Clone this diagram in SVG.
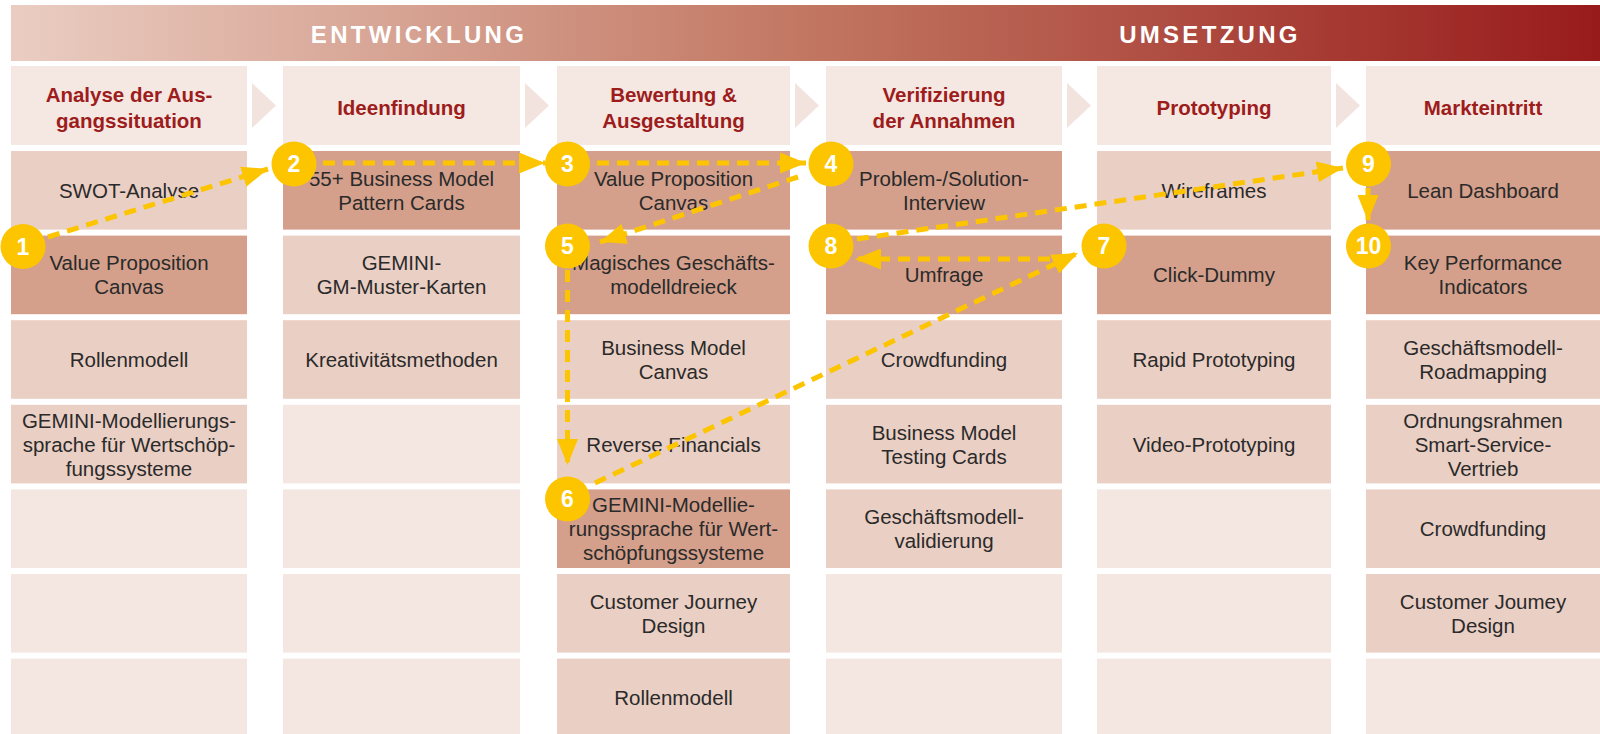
<svg xmlns="http://www.w3.org/2000/svg" width="1600" height="734" viewBox="0 0 1600 734">
<defs>
<linearGradient id="band" x1="0" y1="0" x2="1" y2="0">
<stop offset="0" stop-color="#eacdc2"/>
<stop offset="0.5" stop-color="#c27762"/>
<stop offset="1" stop-color="#981b1b"/>
</linearGradient>
<marker id="ah" markerUnits="userSpaceOnUse" markerWidth="27" markerHeight="21" refX="26" refY="10.5" orient="auto">
<path d="M0,0 L26,10.5 L0,21 z" fill="#fdc400"/>
</marker>
<style>
.hd{fill:#f5e7e2}
.lt{fill:#f4e6e1}
.md{fill:#eacfc4}
.dk{fill:#d4a08b}
.chev{fill:#f3e3de}
.ht{font-family:"Liberation Sans",Arial,sans-serif;font-weight:bold;font-size:20.5px;fill:#9d1c1c;text-anchor:middle}
.ct{font-family:"Liberation Sans",Arial,sans-serif;font-size:20.5px;fill:#2a2a2a;text-anchor:middle}
.bt{font-family:"Liberation Sans",Arial,sans-serif;font-weight:bold;font-size:24px;letter-spacing:3.3px;fill:#ffffff;text-anchor:middle}
.con{fill:none;stroke:#fdc400;stroke-width:5;stroke-dasharray:12 8;marker-end:url(#ah)}
.cir{fill:#fdc400}
.num{font-family:"Liberation Sans",Arial,sans-serif;font-weight:bold;font-size:23px;fill:#ffffff;text-anchor:middle}
</style>
</defs>
<rect width="1600" height="734" fill="#ffffff"/>
<g id="band">
<rect x="11" y="5" width="1589" height="56" fill="url(#band)"/>
<text class="bt" x="419" y="43">ENTWICKLUNG</text>
<text class="bt" x="1210" y="43">UMSETZUNG</text>
</g>
<g id="chevrons">
<polygon class="chev" points="252,83 276,105.5 252,128"/>
<polygon class="chev" points="525,83 549,105.5 525,128"/>
<polygon class="chev" points="795,83 819,105.5 795,128"/>
<polygon class="chev" points="1067,83 1091,105.5 1067,128"/>
<polygon class="chev" points="1336,83 1360,105.5 1336,128"/>
</g>
<g id="col1">
<g id="h1"><rect class="hd" x="11" y="66" width="236" height="79"/><text class="ht" x="129" y="101.5">Analyse der Aus-</text><text class="ht" x="129" y="127.5">gangssituation</text></g>
<g id="c1r1"><rect class="md" x="11" y="151" width="236" height="78.6"/><text class="ct" x="129" y="197.8">SWOT-Analyse</text></g>
<g id="c1r2"><rect class="dk" x="11" y="235.6" width="236" height="78.6"/><text class="ct" x="129" y="270.4">Value Proposition</text><text class="ct" x="129" y="294.4">Canvas</text></g>
<g id="c1r3"><rect class="md" x="11" y="320.2" width="236" height="78.6"/><text class="ct" x="129" y="367">Rollenmodell</text></g>
<g id="c1r4"><rect class="md" x="11" y="404.8" width="236" height="78.6"/><text class="ct" x="129" y="427.6">GEMINI-Modellierungs-</text><text class="ct" x="129" y="451.6">sprache für Wertschöp-</text><text class="ct" x="129" y="475.6">fungssysteme</text></g>
<g id="c1r5"><rect class="lt" x="11" y="489.4" width="236" height="78.6"/></g>
<g id="c1r6"><rect class="lt" x="11" y="574" width="236" height="78.6"/></g>
<g id="c1r7"><rect class="lt" x="11" y="658.6" width="236" height="78.6"/></g>
</g>
<g id="col2">
<g id="h2"><rect class="hd" x="283" y="66" width="237" height="79"/><text class="ht" x="401.5" y="114.5">Ideenfindung</text></g>
<g id="c2r1"><rect class="dk" x="283" y="151" width="237" height="78.6"/><text class="ct" x="401.5" y="185.8">55+ Business Model</text><text class="ct" x="401.5" y="209.8">Pattern Cards</text></g>
<g id="c2r2"><rect class="md" x="283" y="235.6" width="237" height="78.6"/><text class="ct" x="401.5" y="270.4">GEMINI-</text><text class="ct" x="401.5" y="294.4">GM-Muster-Karten</text></g>
<g id="c2r3"><rect class="md" x="283" y="320.2" width="237" height="78.6"/><text class="ct" x="401.5" y="367">Kreativitätsmethoden</text></g>
<g id="c2r4"><rect class="lt" x="283" y="404.8" width="237" height="78.6"/></g>
<g id="c2r5"><rect class="lt" x="283" y="489.4" width="237" height="78.6"/></g>
<g id="c2r6"><rect class="lt" x="283" y="574" width="237" height="78.6"/></g>
<g id="c2r7"><rect class="lt" x="283" y="658.6" width="237" height="78.6"/></g>
</g>
<g id="col3">
<g id="h3"><rect class="hd" x="557" y="66" width="233" height="79"/><text class="ht" x="673.5" y="101.5">Bewertung &amp;</text><text class="ht" x="673.5" y="127.5">Ausgestaltung</text></g>
<g id="c3r1"><rect class="dk" x="557" y="151" width="233" height="78.6"/><text class="ct" x="673.5" y="185.8">Value Proposition</text><text class="ct" x="673.5" y="209.8">Canvas</text></g>
<g id="c3r2"><rect class="dk" x="557" y="235.6" width="233" height="78.6"/><text class="ct" x="673.5" y="270.4">Magisches Geschäfts-</text><text class="ct" x="673.5" y="294.4">modelldreieck</text></g>
<g id="c3r3"><rect class="md" x="557" y="320.2" width="233" height="78.6"/><text class="ct" x="673.5" y="355">Business Model</text><text class="ct" x="673.5" y="379">Canvas</text></g>
<g id="c3r4"><rect class="md" x="557" y="404.8" width="233" height="78.6"/><text class="ct" x="673.5" y="451.6">Reverse Financials</text></g>
<g id="c3r5"><rect class="dk" x="557" y="489.4" width="233" height="78.6"/><text class="ct" x="673.5" y="512.2">GEMINI-Modellie-</text><text class="ct" x="673.5" y="536.2">rungssprache für Wert-</text><text class="ct" x="673.5" y="560.2">schöpfungssysteme</text></g>
<g id="c3r6"><rect class="md" x="557" y="574" width="233" height="78.6"/><text class="ct" x="673.5" y="608.8">Customer Journey</text><text class="ct" x="673.5" y="632.8">Design</text></g>
<g id="c3r7"><rect class="md" x="557" y="658.6" width="233" height="78.6"/><text class="ct" x="673.5" y="705.4">Rollenmodell</text></g>
</g>
<g id="col4">
<g id="h4"><rect class="hd" x="826" y="66" width="236" height="79"/><text class="ht" x="944" y="101.5">Verifizierung</text><text class="ht" x="944" y="127.5">der Annahmen</text></g>
<g id="c4r1"><rect class="dk" x="826" y="151" width="236" height="78.6"/><text class="ct" x="944" y="185.8">Problem-/Solution-</text><text class="ct" x="944" y="209.8">Interview</text></g>
<g id="c4r2"><rect class="dk" x="826" y="235.6" width="236" height="78.6"/><text class="ct" x="944" y="282.4">Umfrage</text></g>
<g id="c4r3"><rect class="md" x="826" y="320.2" width="236" height="78.6"/><text class="ct" x="944" y="367">Crowdfunding</text></g>
<g id="c4r4"><rect class="md" x="826" y="404.8" width="236" height="78.6"/><text class="ct" x="944" y="439.6">Business Model</text><text class="ct" x="944" y="463.6">Testing Cards</text></g>
<g id="c4r5"><rect class="md" x="826" y="489.4" width="236" height="78.6"/><text class="ct" x="944" y="524.2">Geschäftsmodell-</text><text class="ct" x="944" y="548.2">validierung</text></g>
<g id="c4r6"><rect class="lt" x="826" y="574" width="236" height="78.6"/></g>
<g id="c4r7"><rect class="lt" x="826" y="658.6" width="236" height="78.6"/></g>
</g>
<g id="col5">
<g id="h5"><rect class="hd" x="1097" y="66" width="234" height="79"/><text class="ht" x="1214" y="114.5">Prototyping</text></g>
<g id="c5r1"><rect class="md" x="1097" y="151" width="234" height="78.6"/><text class="ct" x="1214" y="197.8">Wireframes</text></g>
<g id="c5r2"><rect class="dk" x="1097" y="235.6" width="234" height="78.6"/><text class="ct" x="1214" y="282.4">Click-Dummy</text></g>
<g id="c5r3"><rect class="md" x="1097" y="320.2" width="234" height="78.6"/><text class="ct" x="1214" y="367">Rapid Prototyping</text></g>
<g id="c5r4"><rect class="md" x="1097" y="404.8" width="234" height="78.6"/><text class="ct" x="1214" y="451.6">Video-Prototyping</text></g>
<g id="c5r5"><rect class="lt" x="1097" y="489.4" width="234" height="78.6"/></g>
<g id="c5r6"><rect class="lt" x="1097" y="574" width="234" height="78.6"/></g>
<g id="c5r7"><rect class="lt" x="1097" y="658.6" width="234" height="78.6"/></g>
</g>
<g id="col6">
<g id="h6"><rect class="hd" x="1366" y="66" width="234" height="79"/><text class="ht" x="1483" y="114.5">Markteintritt</text></g>
<g id="c6r1"><rect class="dk" x="1366" y="151" width="234" height="78.6"/><text class="ct" x="1483" y="197.8">Lean Dashboard</text></g>
<g id="c6r2"><rect class="dk" x="1366" y="235.6" width="234" height="78.6"/><text class="ct" x="1483" y="270.4">Key Performance</text><text class="ct" x="1483" y="294.4">Indicators</text></g>
<g id="c6r3"><rect class="md" x="1366" y="320.2" width="234" height="78.6"/><text class="ct" x="1483" y="355">Geschäftsmodell-</text><text class="ct" x="1483" y="379">Roadmapping</text></g>
<g id="c6r4"><rect class="md" x="1366" y="404.8" width="234" height="78.6"/><text class="ct" x="1483" y="427.6">Ordnungsrahmen</text><text class="ct" x="1483" y="451.6">Smart-Service-</text><text class="ct" x="1483" y="475.6">Vertrieb</text></g>
<g id="c6r5"><rect class="md" x="1366" y="489.4" width="234" height="78.6"/><text class="ct" x="1483" y="536.2">Crowdfunding</text></g>
<g id="c6r6"><rect class="md" x="1366" y="574" width="234" height="78.6"/><text class="ct" x="1483" y="608.8">Customer Joumey</text><text class="ct" x="1483" y="632.8">Design</text></g>
<g id="c6r7"><rect class="lt" x="1366" y="658.6" width="234" height="78.6"/></g>
</g>
<g id="connectors">
<path class="con" d="M48,237 L268,169"/>
<path class="con" d="M323,163 L545,163"/>
<path class="con" d="M597,163 L806,163"/>
<path class="con" d="M798,177 L600,242"/>
<path class="con" d="M567.5,270 L567.5,465"/>
<path class="con" d="M595,483 L1078,253"/>
<path class="con" d="M1050,259 L855,259"/>
<path class="con" d="M857,239 L1343,168"/>
<path class="con" d="M1368,188 L1368,221"/>
</g>
<g id="steps">
<g id="s1"><circle class="cir" cx="23" cy="246.5" r="22.5"/><text class="num" x="23" y="254.5">1</text></g>
<g id="s2"><circle class="cir" cx="294" cy="164" r="22.5"/><text class="num" x="294" y="172">2</text></g>
<g id="s3"><circle class="cir" cx="567.5" cy="164" r="22.5"/><text class="num" x="567.5" y="172">3</text></g>
<g id="s4"><circle class="cir" cx="831" cy="164" r="22.5"/><text class="num" x="831" y="172">4</text></g>
<g id="s5"><circle class="cir" cx="567.5" cy="246" r="22.5"/><text class="num" x="567.5" y="254">5</text></g>
<g id="s6"><circle class="cir" cx="567.5" cy="499" r="22.5"/><text class="num" x="567.5" y="507">6</text></g>
<g id="s7"><circle class="cir" cx="1104" cy="246" r="22.5"/><text class="num" x="1104" y="254">7</text></g>
<g id="s8"><circle class="cir" cx="831" cy="246" r="22.5"/><text class="num" x="831" y="254">8</text></g>
<g id="s9"><circle class="cir" cx="1368.5" cy="164" r="22.5"/><text class="num" x="1368.5" y="172">9</text></g>
<g id="s10"><circle class="cir" cx="1368.5" cy="246" r="22.5"/><text class="num" x="1368.5" y="254">10</text></g>
</g>
</svg>
